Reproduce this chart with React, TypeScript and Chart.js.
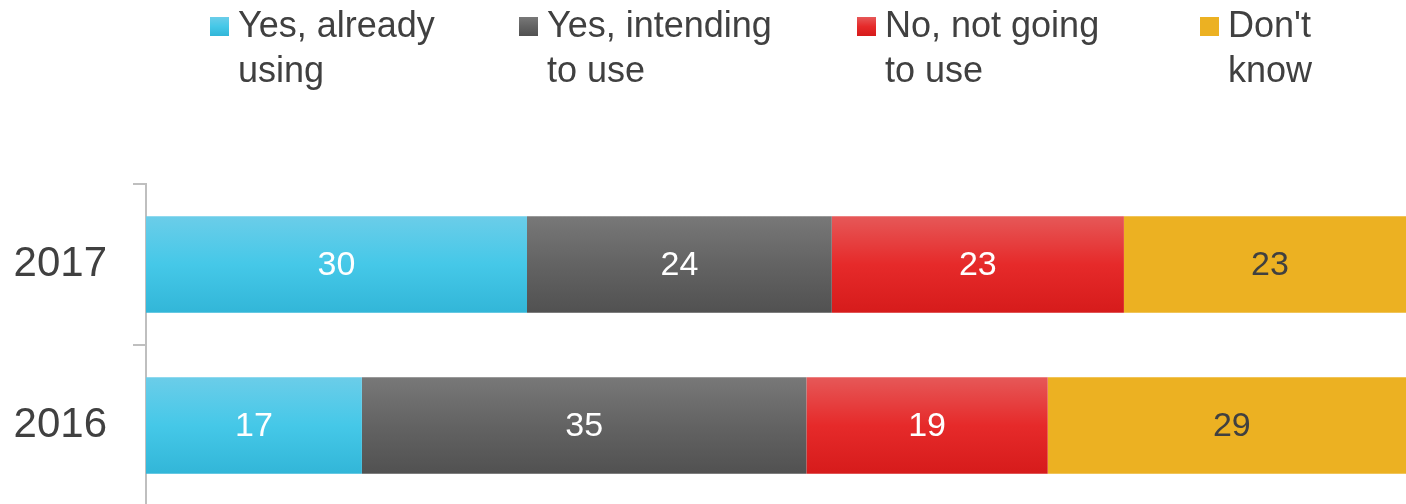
import { useEffect, useRef } from "react";
import { Chart, registerables } from "chart.js";

Chart.register(...registerables);

const categories = ["2017", "2016"];
const seriesNames = ["Yes, already\nusing", "Yes, intending\nto use", "No, not going\nto use", "Don't\nknow"];
const alreadyUsing = [30, 17];
const intendingToUse = [24, 35];
const notGoingToUse = [23, 19];
const dontKnow = [23, 29];

const seriesValues = [alreadyUsing, intendingToUse, notGoingToUse, dontKnow];

const gradientStops = [
  ["#6bcde9", "#45c8e8", "#32b6d8"],
  ["#787878", "#636363", "#515151"],
  ["#e65858", "#e62a2a", "#d61b1b"],
  ["#ecb122", "#ecb122", "#ecb122"],
];
const valueLabelColors = ["#ffffff", "#ffffff", "#ffffff", "#404040"];
const legendX = [210, 519, 857, 1200];
const FONT = "'Liberation Sans', Arial, sans-serif";
const BAR_FRACTION = 0.6;

function makeGradient(ctx: CanvasRenderingContext2D, top: number, bottom: number, stops: string[]) {
  const g = ctx.createLinearGradient(0, top, 0, bottom);
  g.addColorStop(0, stops[0]);
  g.addColorStop(0.5, stops[1]);
  g.addColorStop(1, stops[2]);
  return g;
}

const legendPlugin = {
  id: "customLegend",
  afterDraw(chart: any) {
    const ctx = chart.ctx as CanvasRenderingContext2D;
    ctx.save();
    chart.data.datasets.forEach((ds: any, i: number) => {
      const x = legendX[i];
      const boxTop = 17;
      const boxSize = 19;
      ctx.fillStyle = makeGradient(ctx, boxTop, boxTop + boxSize, gradientStops[i]);
      ctx.fillRect(x, boxTop, boxSize, boxSize);
      ctx.fillStyle = "#404040";
      ctx.font = `36px ${FONT}`;
      ctx.textAlign = "left";
      ctx.textBaseline = "alphabetic";
      String(ds.label)
        .split("\n")
        .forEach((line: string, li: number) => {
          ctx.fillText(line, x + 28, 37 + li * 45);
        });
    });
    ctx.restore();
  },
};

const valueLabelPlugin = {
  id: "valueLabels",
  afterDatasetsDraw(chart: any) {
    const ctx = chart.ctx as CanvasRenderingContext2D;
    ctx.save();
    ctx.font = `34px ${FONT}`;
    ctx.textAlign = "center";
    ctx.textBaseline = "middle";
    chart.data.datasets.forEach((ds: any, i: number) => {
      const meta = chart.getDatasetMeta(i);
      meta.data.forEach((el: any, j: number) => {
        const cx = (el.x + el.base) / 2;
        ctx.fillStyle = valueLabelColors[i];
        ctx.fillText(String(ds.data[j]), cx, el.y + 1);
      });
    });
    ctx.restore();
  },
};

export default function App() {
  const canvasRef = useRef<HTMLCanvasElement | null>(null);

  useEffect(() => {
    if (!canvasRef.current) return;
    const chart = new Chart(canvasRef.current, {
      type: "bar",
      data: {
        labels: categories,
        datasets: seriesValues.map((vals, i) => ({
          label: seriesNames[i],
          data: vals,
          borderWidth: 0,
          categoryPercentage: 1,
          barPercentage: BAR_FRACTION,
          backgroundColor: (c: any) => {
            const ch = c.chart;
            const y = ch.scales && ch.scales.y;
            if (!y || c.dataIndex == null || !ch.chartArea) return gradientStops[i][1];
            const band = (y.bottom - y.top) / categories.length;
            const h = band * BAR_FRACTION;
            const center = y.getPixelForValue(c.dataIndex);
            return makeGradient(ch.ctx, center - h / 2, center + h / 2, gradientStops[i]);
          },
        })),
      },
      options: {
        indexAxis: "y",
        responsive: true,
        maintainAspectRatio: false,
        animation: false,
        devicePixelRatio: 1,
        layout: { padding: { top: 184, bottom: 4, right: 4, left: 0 } },
        plugins: {
          legend: { display: false },
          tooltip: { enabled: false },
        },
        scales: {
          x: { display: false, stacked: true, min: 0, max: 100 },
          y: {
            stacked: true,
            position: "left",
            grid: {
              offset: true,
              drawOnChartArea: false,
              drawTicks: true,
              tickLength: 13,
              color: "#BFBFBF",
              lineWidth: 2,
            },
            border: { display: true, color: "#BFBFBF", width: 2 },
            ticks: {
              color: "#404040",
              font: { family: FONT, size: 42 },
              padding: 26,
            },
            afterFit: (s: any) => {
              s.width = 146;
              s.paddingTop = 0;
              s.paddingBottom = 0;
            },
          },
        },
      } as any,
      plugins: [legendPlugin, valueLabelPlugin],
    });
    return () => chart.destroy();
  }, []);

  return (
    <div style={{ position: "fixed", left: 0, top: 0, width: 1406, height: 504, overflow: "hidden", background: "#fff" }}>
      <div style={{ position: "relative", width: 1420, height: 510 }}>
        <canvas ref={canvasRef} style={{ display: "block" }} />
      </div>
    </div>
  );
}
